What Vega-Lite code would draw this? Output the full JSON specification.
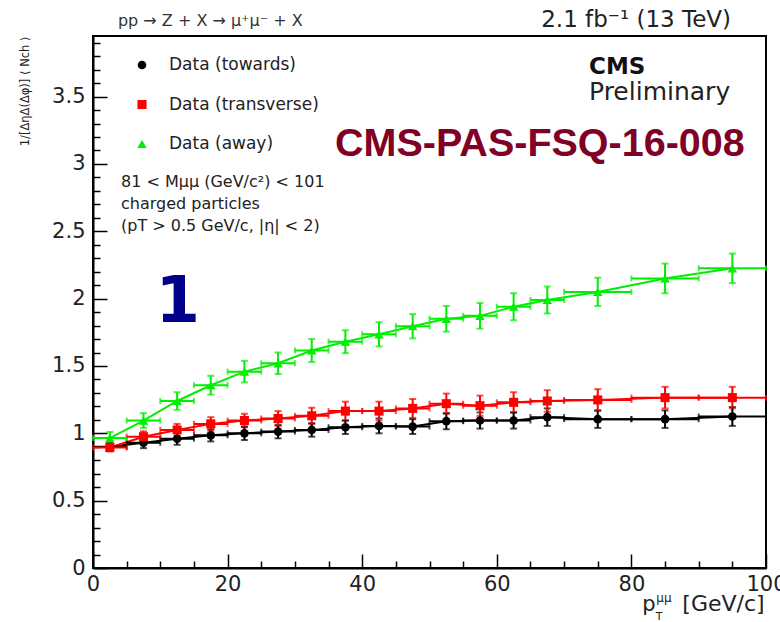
{
  "$schema": "https://vega.github.io/schema/vega-lite/v6.json",
  "width": 673,
  "height": 532,
  "autosize": "none",
  "padding": {"left": 93, "top": 36, "right": 14, "bottom": 54},
  "background": "white",
  "config": {
    "view": {"stroke": "#000", "strokeWidth": 2},
    "font": "DejaVu Sans",
    "axis": {
      "grid": false,
      "domainColor": "#000",
      "domainWidth": 2,
      "tickColor": "#000",
      "tickWidth": 1.5,
      "labelFont": "DejaVu Sans",
      "labelFontSize": 21,
      "labelColor": "#222"
    }
  },
  "data": {
    "values": [
      {"series": "Data (towards)", "x": 2.5, "xlo": 0, "xhi": 5, "y": 0.9, "ylo": 0.87, "yhi": 0.93},
      {"series": "Data (towards)", "x": 7.5, "xlo": 5, "xhi": 10, "y": 0.93, "ylo": 0.89, "yhi": 0.97},
      {"series": "Data (towards)", "x": 12.5, "xlo": 10, "xhi": 15, "y": 0.96, "ylo": 0.915, "yhi": 1.005},
      {"series": "Data (towards)", "x": 17.5, "xlo": 15, "xhi": 20, "y": 0.985, "ylo": 0.94, "yhi": 1.03},
      {"series": "Data (towards)", "x": 22.5, "xlo": 20, "xhi": 25, "y": 1.0, "ylo": 0.95, "yhi": 1.05},
      {"series": "Data (towards)", "x": 27.5, "xlo": 25, "xhi": 30, "y": 1.013, "ylo": 0.963, "yhi": 1.063},
      {"series": "Data (towards)", "x": 32.5, "xlo": 30, "xhi": 35, "y": 1.025, "ylo": 0.975, "yhi": 1.075},
      {"series": "Data (towards)", "x": 37.5, "xlo": 35, "xhi": 40, "y": 1.045, "ylo": 0.995, "yhi": 1.095},
      {"series": "Data (towards)", "x": 42.5, "xlo": 40, "xhi": 45, "y": 1.055, "ylo": 1.0, "yhi": 1.11},
      {"series": "Data (towards)", "x": 47.5, "xlo": 45, "xhi": 50, "y": 1.05, "ylo": 0.995, "yhi": 1.105},
      {"series": "Data (towards)", "x": 52.5, "xlo": 50, "xhi": 55, "y": 1.09, "ylo": 1.03, "yhi": 1.15},
      {"series": "Data (towards)", "x": 57.5, "xlo": 55, "xhi": 60, "y": 1.095, "ylo": 1.035, "yhi": 1.155},
      {"series": "Data (towards)", "x": 62.5, "xlo": 60, "xhi": 65, "y": 1.095, "ylo": 1.035, "yhi": 1.155},
      {"series": "Data (towards)", "x": 67.5, "xlo": 65, "xhi": 70, "y": 1.12, "ylo": 1.055, "yhi": 1.185},
      {"series": "Data (towards)", "x": 75, "xlo": 70, "xhi": 80, "y": 1.105, "ylo": 1.04, "yhi": 1.17},
      {"series": "Data (towards)", "x": 85, "xlo": 80, "xhi": 90, "y": 1.105, "ylo": 1.04, "yhi": 1.17},
      {"series": "Data (towards)", "x": 95, "xlo": 90, "xhi": 100, "y": 1.125, "ylo": 1.055, "yhi": 1.195},
      {"series": "Data (transverse)", "x": 2.5, "xlo": 0, "xhi": 5, "y": 0.895, "ylo": 0.865, "yhi": 0.925},
      {"series": "Data (transverse)", "x": 7.5, "xlo": 5, "xhi": 10, "y": 0.975, "ylo": 0.935, "yhi": 1.015},
      {"series": "Data (transverse)", "x": 12.5, "xlo": 10, "xhi": 15, "y": 1.025, "ylo": 0.98, "yhi": 1.07},
      {"series": "Data (transverse)", "x": 17.5, "xlo": 15, "xhi": 20, "y": 1.07, "ylo": 1.02, "yhi": 1.12},
      {"series": "Data (transverse)", "x": 22.5, "xlo": 20, "xhi": 25, "y": 1.095, "ylo": 1.045, "yhi": 1.145},
      {"series": "Data (transverse)", "x": 27.5, "xlo": 25, "xhi": 30, "y": 1.11, "ylo": 1.055, "yhi": 1.165},
      {"series": "Data (transverse)", "x": 32.5, "xlo": 30, "xhi": 35, "y": 1.13, "ylo": 1.07, "yhi": 1.19},
      {"series": "Data (transverse)", "x": 37.5, "xlo": 35, "xhi": 40, "y": 1.165, "ylo": 1.095, "yhi": 1.235},
      {"series": "Data (transverse)", "x": 42.5, "xlo": 40, "xhi": 45, "y": 1.165, "ylo": 1.095, "yhi": 1.235},
      {"series": "Data (transverse)", "x": 47.5, "xlo": 45, "xhi": 50, "y": 1.185, "ylo": 1.115, "yhi": 1.255},
      {"series": "Data (transverse)", "x": 52.5, "xlo": 50, "xhi": 55, "y": 1.22, "ylo": 1.145, "yhi": 1.295},
      {"series": "Data (transverse)", "x": 57.5, "xlo": 55, "xhi": 60, "y": 1.205, "ylo": 1.13, "yhi": 1.28},
      {"series": "Data (transverse)", "x": 62.5, "xlo": 60, "xhi": 65, "y": 1.23, "ylo": 1.155, "yhi": 1.305},
      {"series": "Data (transverse)", "x": 67.5, "xlo": 65, "xhi": 70, "y": 1.24, "ylo": 1.16, "yhi": 1.32},
      {"series": "Data (transverse)", "x": 75, "xlo": 70, "xhi": 80, "y": 1.248, "ylo": 1.168, "yhi": 1.328},
      {"series": "Data (transverse)", "x": 85, "xlo": 80, "xhi": 90, "y": 1.265, "ylo": 1.185, "yhi": 1.345},
      {"series": "Data (transverse)", "x": 95, "xlo": 90, "xhi": 100, "y": 1.265, "ylo": 1.185, "yhi": 1.345},
      {"series": "Data (away)", "x": 2.5, "xlo": 0, "xhi": 5, "y": 0.965, "ylo": 0.92, "yhi": 1.01},
      {"series": "Data (away)", "x": 7.5, "xlo": 5, "xhi": 10, "y": 1.095, "ylo": 1.04, "yhi": 1.15},
      {"series": "Data (away)", "x": 12.5, "xlo": 10, "xhi": 15, "y": 1.24, "ylo": 1.175, "yhi": 1.305},
      {"series": "Data (away)", "x": 17.5, "xlo": 15, "xhi": 20, "y": 1.357, "ylo": 1.287, "yhi": 1.427},
      {"series": "Data (away)", "x": 22.5, "xlo": 20, "xhi": 25, "y": 1.458, "ylo": 1.378, "yhi": 1.538},
      {"series": "Data (away)", "x": 27.5, "xlo": 25, "xhi": 30, "y": 1.52, "ylo": 1.44, "yhi": 1.6},
      {"series": "Data (away)", "x": 32.5, "xlo": 30, "xhi": 35, "y": 1.615, "ylo": 1.53, "yhi": 1.7},
      {"series": "Data (away)", "x": 37.5, "xlo": 35, "xhi": 40, "y": 1.68, "ylo": 1.595, "yhi": 1.765},
      {"series": "Data (away)", "x": 42.5, "xlo": 40, "xhi": 45, "y": 1.735, "ylo": 1.645, "yhi": 1.825},
      {"series": "Data (away)", "x": 47.5, "xlo": 45, "xhi": 50, "y": 1.795, "ylo": 1.705, "yhi": 1.885},
      {"series": "Data (away)", "x": 52.5, "xlo": 50, "xhi": 55, "y": 1.85, "ylo": 1.755, "yhi": 1.945},
      {"series": "Data (away)", "x": 57.5, "xlo": 55, "xhi": 60, "y": 1.872, "ylo": 1.777, "yhi": 1.967},
      {"series": "Data (away)", "x": 62.5, "xlo": 60, "xhi": 65, "y": 1.94, "ylo": 1.84, "yhi": 2.04},
      {"series": "Data (away)", "x": 67.5, "xlo": 65, "xhi": 70, "y": 1.99, "ylo": 1.89, "yhi": 2.09},
      {"series": "Data (away)", "x": 75, "xlo": 70, "xhi": 80, "y": 2.05, "ylo": 1.945, "yhi": 2.155},
      {"series": "Data (away)", "x": 85, "xlo": 80, "xhi": 90, "y": 2.15, "ylo": 2.04, "yhi": 2.26},
      {"series": "Data (away)", "x": 95, "xlo": 90, "xhi": 100, "y": 2.225, "ylo": 2.115, "yhi": 2.335}
    ]
  },
  "layer": [
    {
      "mark": {"type": "line", "strokeWidth": 2},
      "encoding": {
        "x": {"field": "x", "type": "quantitative", "scale": {"domain": [0, 100], "nice": false},
          "axis": {"values": [0,5,10,15,20,25,30,35,40,45,50,55,60,65,70,75,80,85,90,95,100], "tickSize": {"condition": {"test": "datum.value % 20 === 0", "value": -14}, "value": -7}, "labelExpr": "datum.value % 20 === 0 ? datum.label : ''", "labelPadding": 19, "labelFlush": false, "labelOverlap": false, "title": null}},
        "y": {"field": "y", "type": "quantitative", "scale": {"domain": [0, 3.95], "nice": false, "zero": false},
          "axis": {"values": [0,0.1,0.2,0.3,0.4,0.5,0.6,0.7,0.8,0.9,1,1.1,1.2,1.3,1.4,1.5,1.6,1.7,1.8,1.9,2,2.1,2.2,2.3,2.4,2.5,2.6,2.7,2.8,2.9,3,3.1,3.2,3.3,3.4,3.5,3.6,3.7,3.8,3.9], "tickSize": {"condition": {"test": "abs(datum.value * 2 - round(datum.value * 2)) < 0.001", "value": -14}, "value": -7}, "labelExpr": "abs(datum.value * 2 - round(datum.value * 2)) < 0.001 ? format(datum.value, '~g') : ''", "labelPadding": 22, "labelFlush": false, "labelOverlap": false, "title": "1/[ΔηΔ(Δφ)] ⟨ Nch ⟩", "titleFont": "DejaVu Sans", "titleFontSize": 11.5, "titleFontWeight": "normal", "titleColor": "#222", "titleAngle": 270, "titleAlign": "right", "titleBaseline": "alphabetic", "titleX": -65, "titleY": 0}},
        "color": {"field": "series", "type": "nominal", "scale": {"domain": ["Data (towards)", "Data (transverse)", "Data (away)"], "range": ["#000000", "#ff0000", "#00ee00"]},
          "legend": {"orient": "none", "legendX": 40.5, "legendY": 20.5, "title": null, "padding": 0, "rowPadding": 21.5, "labelFont": "DejaVu Sans", "labelFontSize": 17, "labelColor": "#222", "labelOffset": 18.5, "symbolSize": 81, "symbolStrokeWidth": 0, "symbolOpacity": 1}}
      }
    },
    {
      "mark": {"type": "errorbar", "ticks": {"size": 7, "thickness": 2}, "thickness": 2},
      "encoding": {
        "x": {"field": "x", "type": "quantitative", "scale": {"domain": [0, 100], "nice": false},
          "axis": {"values": [0,5,10,15,20,25,30,35,40,45,50,55,60,65,70,75,80,85,90,95,100], "tickSize": {"condition": {"test": "datum.value % 20 === 0", "value": -14}, "value": -7}, "labelExpr": "datum.value % 20 === 0 ? datum.label : ''", "labelPadding": 19, "labelFlush": false, "labelOverlap": false, "title": null}},
        "y": {"field": "ylo", "type": "quantitative", "scale": {"domain": [0, 3.95], "nice": false, "zero": false},
          "axis": {"values": [0,0.1,0.2,0.3,0.4,0.5,0.6,0.7,0.8,0.9,1,1.1,1.2,1.3,1.4,1.5,1.6,1.7,1.8,1.9,2,2.1,2.2,2.3,2.4,2.5,2.6,2.7,2.8,2.9,3,3.1,3.2,3.3,3.4,3.5,3.6,3.7,3.8,3.9], "tickSize": {"condition": {"test": "abs(datum.value * 2 - round(datum.value * 2)) < 0.001", "value": -14}, "value": -7}, "labelExpr": "abs(datum.value * 2 - round(datum.value * 2)) < 0.001 ? format(datum.value, '~g') : ''", "labelPadding": 22, "labelFlush": false, "labelOverlap": false, "title": "1/[ΔηΔ(Δφ)] ⟨ Nch ⟩", "titleFont": "DejaVu Sans", "titleFontSize": 11.5, "titleFontWeight": "normal", "titleColor": "#222", "titleAngle": 270, "titleAlign": "right", "titleBaseline": "alphabetic", "titleX": -65, "titleY": 0}},
        "y2": {"field": "yhi"},
        "color": {"field": "series", "type": "nominal", "scale": {"domain": ["Data (towards)", "Data (transverse)", "Data (away)"], "range": ["#000000", "#ff0000", "#00ee00"]},
          "legend": {"orient": "none", "legendX": 40.5, "legendY": 20.5, "title": null, "padding": 0, "rowPadding": 21.5, "labelFont": "DejaVu Sans", "labelFontSize": 17, "labelColor": "#222", "labelOffset": 18.5, "symbolSize": 81, "symbolStrokeWidth": 0, "symbolOpacity": 1}}
      }
    },
    {
      "mark": {"type": "errorbar", "ticks": {"size": 6, "thickness": 2}, "thickness": 2},
      "encoding": {
        "x": {"field": "xlo", "type": "quantitative", "scale": {"domain": [0, 100], "nice": false},
          "axis": {"values": [0,5,10,15,20,25,30,35,40,45,50,55,60,65,70,75,80,85,90,95,100], "tickSize": {"condition": {"test": "datum.value % 20 === 0", "value": -14}, "value": -7}, "labelExpr": "datum.value % 20 === 0 ? datum.label : ''", "labelPadding": 19, "labelFlush": false, "labelOverlap": false, "title": null}},
        "x2": {"field": "xhi"},
        "y": {"field": "y", "type": "quantitative", "scale": {"domain": [0, 3.95], "nice": false, "zero": false},
          "axis": {"values": [0,0.1,0.2,0.3,0.4,0.5,0.6,0.7,0.8,0.9,1,1.1,1.2,1.3,1.4,1.5,1.6,1.7,1.8,1.9,2,2.1,2.2,2.3,2.4,2.5,2.6,2.7,2.8,2.9,3,3.1,3.2,3.3,3.4,3.5,3.6,3.7,3.8,3.9], "tickSize": {"condition": {"test": "abs(datum.value * 2 - round(datum.value * 2)) < 0.001", "value": -14}, "value": -7}, "labelExpr": "abs(datum.value * 2 - round(datum.value * 2)) < 0.001 ? format(datum.value, '~g') : ''", "labelPadding": 22, "labelFlush": false, "labelOverlap": false, "title": "1/[ΔηΔ(Δφ)] ⟨ Nch ⟩", "titleFont": "DejaVu Sans", "titleFontSize": 11.5, "titleFontWeight": "normal", "titleColor": "#222", "titleAngle": 270, "titleAlign": "right", "titleBaseline": "alphabetic", "titleX": -65, "titleY": 0}},
        "color": {"field": "series", "type": "nominal", "scale": {"domain": ["Data (towards)", "Data (transverse)", "Data (away)"], "range": ["#000000", "#ff0000", "#00ee00"]},
          "legend": {"orient": "none", "legendX": 40.5, "legendY": 20.5, "title": null, "padding": 0, "rowPadding": 21.5, "labelFont": "DejaVu Sans", "labelFontSize": 17, "labelColor": "#222", "labelOffset": 18.5, "symbolSize": 81, "symbolStrokeWidth": 0, "symbolOpacity": 1}}
      }
    },
    {
      "mark": {"type": "point", "filled": true, "opacity": 1},
      "encoding": {
        "x": {"field": "x", "type": "quantitative", "scale": {"domain": [0, 100], "nice": false},
          "axis": {"values": [0,5,10,15,20,25,30,35,40,45,50,55,60,65,70,75,80,85,90,95,100], "tickSize": {"condition": {"test": "datum.value % 20 === 0", "value": -14}, "value": -7}, "labelExpr": "datum.value % 20 === 0 ? datum.label : ''", "labelPadding": 19, "labelFlush": false, "labelOverlap": false, "title": null}},
        "y": {"field": "y", "type": "quantitative", "scale": {"domain": [0, 3.95], "nice": false, "zero": false},
          "axis": {"values": [0,0.1,0.2,0.3,0.4,0.5,0.6,0.7,0.8,0.9,1,1.1,1.2,1.3,1.4,1.5,1.6,1.7,1.8,1.9,2,2.1,2.2,2.3,2.4,2.5,2.6,2.7,2.8,2.9,3,3.1,3.2,3.3,3.4,3.5,3.6,3.7,3.8,3.9], "tickSize": {"condition": {"test": "abs(datum.value * 2 - round(datum.value * 2)) < 0.001", "value": -14}, "value": -7}, "labelExpr": "abs(datum.value * 2 - round(datum.value * 2)) < 0.001 ? format(datum.value, '~g') : ''", "labelPadding": 22, "labelFlush": false, "labelOverlap": false, "title": "1/[ΔηΔ(Δφ)] ⟨ Nch ⟩", "titleFont": "DejaVu Sans", "titleFontSize": 11.5, "titleFontWeight": "normal", "titleColor": "#222", "titleAngle": 270, "titleAlign": "right", "titleBaseline": "alphabetic", "titleX": -65, "titleY": 0}},
        "shape": {"field": "series", "type": "nominal", "scale": {"domain": ["Data (towards)", "Data (transverse)", "Data (away)"], "range": ["circle", "square", "triangle-up"]},
          "legend": {"orient": "none", "legendX": 40.5, "legendY": 20.5, "title": null, "padding": 0, "rowPadding": 21.5, "labelFont": "DejaVu Sans", "labelFontSize": 17, "labelColor": "#222", "labelOffset": 18.5, "symbolSize": 81, "symbolStrokeWidth": 0, "symbolOpacity": 1}},
        "size": {"field": "series", "type": "nominal", "scale": {"domain": ["Data (towards)", "Data (transverse)", "Data (away)"], "range": [75, 90, 60]}, "legend": null},
        "color": {"field": "series", "type": "nominal", "scale": {"domain": ["Data (towards)", "Data (transverse)", "Data (away)"], "range": ["#000000", "#ff0000", "#00ee00"]},
          "legend": {"orient": "none", "legendX": 40.5, "legendY": 20.5, "title": null, "padding": 0, "rowPadding": 21.5, "labelFont": "DejaVu Sans", "labelFontSize": 17, "labelColor": "#222", "labelOffset": 18.5, "symbolSize": 81, "symbolStrokeWidth": 0, "symbolOpacity": 1}}
      }
    },
    {
      "data": {"values": [{"t": "pp → Z + X → μ⁺μ⁻ + X"}]},
      "mark": {"type": "text", "align": "left", "baseline": "alphabetic", "font": "DejaVu Sans", "fontSize": 16, "color": "#333"},
      "encoding": {
        "text": {"field": "t"},
        "x": {"datum": 3.71, "type": "quantitative", "scale": {"domain": [0, 100], "nice": false},
          "axis": {"values": [0,5,10,15,20,25,30,35,40,45,50,55,60,65,70,75,80,85,90,95,100], "tickSize": {"condition": {"test": "datum.value % 20 === 0", "value": -14}, "value": -7}, "labelExpr": "datum.value % 20 === 0 ? datum.label : ''", "labelPadding": 19, "labelFlush": false, "labelOverlap": false, "title": null}},
        "y": {"datum": 4.027, "type": "quantitative", "scale": {"domain": [0, 3.95], "nice": false, "zero": false},
          "axis": {"values": [0,0.1,0.2,0.3,0.4,0.5,0.6,0.7,0.8,0.9,1,1.1,1.2,1.3,1.4,1.5,1.6,1.7,1.8,1.9,2,2.1,2.2,2.3,2.4,2.5,2.6,2.7,2.8,2.9,3,3.1,3.2,3.3,3.4,3.5,3.6,3.7,3.8,3.9], "tickSize": {"condition": {"test": "abs(datum.value * 2 - round(datum.value * 2)) < 0.001", "value": -14}, "value": -7}, "labelExpr": "abs(datum.value * 2 - round(datum.value * 2)) < 0.001 ? format(datum.value, '~g') : ''", "labelPadding": 22, "labelFlush": false, "labelOverlap": false, "title": "1/[ΔηΔ(Δφ)] ⟨ Nch ⟩", "titleFont": "DejaVu Sans", "titleFontSize": 11.5, "titleFontWeight": "normal", "titleColor": "#222", "titleAngle": 270, "titleAlign": "right", "titleBaseline": "alphabetic", "titleX": -65, "titleY": 0}}
      }
    },
    {
      "data": {"values": [{"t": "2.1 fb⁻¹ (13 TeV)"}]},
      "mark": {"type": "text", "align": "right", "baseline": "alphabetic", "font": "DejaVu Sans", "fontSize": 23, "color": "#222"},
      "encoding": {
        "text": {"field": "t"},
        "x": {"datum": 94.8, "type": "quantitative", "scale": {"domain": [0, 100], "nice": false},
          "axis": {"values": [0,5,10,15,20,25,30,35,40,45,50,55,60,65,70,75,80,85,90,95,100], "tickSize": {"condition": {"test": "datum.value % 20 === 0", "value": -14}, "value": -7}, "labelExpr": "datum.value % 20 === 0 ? datum.label : ''", "labelPadding": 19, "labelFlush": false, "labelOverlap": false, "title": null}},
        "y": {"datum": 4.02, "type": "quantitative", "scale": {"domain": [0, 3.95], "nice": false, "zero": false},
          "axis": {"values": [0,0.1,0.2,0.3,0.4,0.5,0.6,0.7,0.8,0.9,1,1.1,1.2,1.3,1.4,1.5,1.6,1.7,1.8,1.9,2,2.1,2.2,2.3,2.4,2.5,2.6,2.7,2.8,2.9,3,3.1,3.2,3.3,3.4,3.5,3.6,3.7,3.8,3.9], "tickSize": {"condition": {"test": "abs(datum.value * 2 - round(datum.value * 2)) < 0.001", "value": -14}, "value": -7}, "labelExpr": "abs(datum.value * 2 - round(datum.value * 2)) < 0.001 ? format(datum.value, '~g') : ''", "labelPadding": 22, "labelFlush": false, "labelOverlap": false, "title": "1/[ΔηΔ(Δφ)] ⟨ Nch ⟩", "titleFont": "DejaVu Sans", "titleFontSize": 11.5, "titleFontWeight": "normal", "titleColor": "#222", "titleAngle": 270, "titleAlign": "right", "titleBaseline": "alphabetic", "titleX": -65, "titleY": 0}}
      }
    },
    {
      "data": {"values": [{"t": "CMS"}]},
      "mark": {"type": "text", "align": "left", "baseline": "alphabetic", "font": "DejaVu Sans", "fontSize": 23, "fontWeight": "bold", "color": "#111"},
      "encoding": {
        "text": {"field": "t"},
        "x": {"datum": 73.7, "type": "quantitative", "scale": {"domain": [0, 100], "nice": false},
          "axis": {"values": [0,5,10,15,20,25,30,35,40,45,50,55,60,65,70,75,80,85,90,95,100], "tickSize": {"condition": {"test": "datum.value % 20 === 0", "value": -14}, "value": -7}, "labelExpr": "datum.value % 20 === 0 ? datum.label : ''", "labelPadding": 19, "labelFlush": false, "labelOverlap": false, "title": null}},
        "y": {"datum": 3.67, "type": "quantitative", "scale": {"domain": [0, 3.95], "nice": false, "zero": false},
          "axis": {"values": [0,0.1,0.2,0.3,0.4,0.5,0.6,0.7,0.8,0.9,1,1.1,1.2,1.3,1.4,1.5,1.6,1.7,1.8,1.9,2,2.1,2.2,2.3,2.4,2.5,2.6,2.7,2.8,2.9,3,3.1,3.2,3.3,3.4,3.5,3.6,3.7,3.8,3.9], "tickSize": {"condition": {"test": "abs(datum.value * 2 - round(datum.value * 2)) < 0.001", "value": -14}, "value": -7}, "labelExpr": "abs(datum.value * 2 - round(datum.value * 2)) < 0.001 ? format(datum.value, '~g') : ''", "labelPadding": 22, "labelFlush": false, "labelOverlap": false, "title": "1/[ΔηΔ(Δφ)] ⟨ Nch ⟩", "titleFont": "DejaVu Sans", "titleFontSize": 11.5, "titleFontWeight": "normal", "titleColor": "#222", "titleAngle": 270, "titleAlign": "right", "titleBaseline": "alphabetic", "titleX": -65, "titleY": 0}}
      }
    },
    {
      "data": {"values": [{"t": "Preliminary"}]},
      "mark": {"type": "text", "align": "left", "baseline": "alphabetic", "font": "DejaVu Sans", "fontSize": 25, "color": "#222"},
      "encoding": {
        "text": {"field": "t"},
        "x": {"datum": 73.7, "type": "quantitative", "scale": {"domain": [0, 100], "nice": false},
          "axis": {"values": [0,5,10,15,20,25,30,35,40,45,50,55,60,65,70,75,80,85,90,95,100], "tickSize": {"condition": {"test": "datum.value % 20 === 0", "value": -14}, "value": -7}, "labelExpr": "datum.value % 20 === 0 ? datum.label : ''", "labelPadding": 19, "labelFlush": false, "labelOverlap": false, "title": null}},
        "y": {"datum": 3.477, "type": "quantitative", "scale": {"domain": [0, 3.95], "nice": false, "zero": false},
          "axis": {"values": [0,0.1,0.2,0.3,0.4,0.5,0.6,0.7,0.8,0.9,1,1.1,1.2,1.3,1.4,1.5,1.6,1.7,1.8,1.9,2,2.1,2.2,2.3,2.4,2.5,2.6,2.7,2.8,2.9,3,3.1,3.2,3.3,3.4,3.5,3.6,3.7,3.8,3.9], "tickSize": {"condition": {"test": "abs(datum.value * 2 - round(datum.value * 2)) < 0.001", "value": -14}, "value": -7}, "labelExpr": "abs(datum.value * 2 - round(datum.value * 2)) < 0.001 ? format(datum.value, '~g') : ''", "labelPadding": 22, "labelFlush": false, "labelOverlap": false, "title": "1/[ΔηΔ(Δφ)] ⟨ Nch ⟩", "titleFont": "DejaVu Sans", "titleFontSize": 11.5, "titleFontWeight": "normal", "titleColor": "#222", "titleAngle": 270, "titleAlign": "right", "titleBaseline": "alphabetic", "titleX": -65, "titleY": 0}}
      }
    },
    {
      "data": {"values": [{"t": "CMS-PAS-FSQ-16-008"}]},
      "mark": {"type": "text", "align": "center", "baseline": "alphabetic", "font": "Liberation Sans", "fontSize": 39.5, "fontWeight": "bold", "color": "#800026"},
      "encoding": {
        "text": {"field": "t"},
        "x": {"datum": 66.4, "type": "quantitative", "scale": {"domain": [0, 100], "nice": false},
          "axis": {"values": [0,5,10,15,20,25,30,35,40,45,50,55,60,65,70,75,80,85,90,95,100], "tickSize": {"condition": {"test": "datum.value % 20 === 0", "value": -14}, "value": -7}, "labelExpr": "datum.value % 20 === 0 ? datum.label : ''", "labelPadding": 19, "labelFlush": false, "labelOverlap": false, "title": null}},
        "y": {"datum": 3.056, "type": "quantitative", "scale": {"domain": [0, 3.95], "nice": false, "zero": false},
          "axis": {"values": [0,0.1,0.2,0.3,0.4,0.5,0.6,0.7,0.8,0.9,1,1.1,1.2,1.3,1.4,1.5,1.6,1.7,1.8,1.9,2,2.1,2.2,2.3,2.4,2.5,2.6,2.7,2.8,2.9,3,3.1,3.2,3.3,3.4,3.5,3.6,3.7,3.8,3.9], "tickSize": {"condition": {"test": "abs(datum.value * 2 - round(datum.value * 2)) < 0.001", "value": -14}, "value": -7}, "labelExpr": "abs(datum.value * 2 - round(datum.value * 2)) < 0.001 ? format(datum.value, '~g') : ''", "labelPadding": 22, "labelFlush": false, "labelOverlap": false, "title": "1/[ΔηΔ(Δφ)] ⟨ Nch ⟩", "titleFont": "DejaVu Sans", "titleFontSize": 11.5, "titleFontWeight": "normal", "titleColor": "#222", "titleAngle": 270, "titleAlign": "right", "titleBaseline": "alphabetic", "titleX": -65, "titleY": 0}}
      }
    },
    {
      "data": {"values": [{"t": "1"}]},
      "mark": {"type": "text", "align": "center", "baseline": "alphabetic", "font": "DejaVu Sans", "fontSize": 64, "fontWeight": "bold", "color": "#000088"},
      "encoding": {
        "text": {"field": "t"},
        "x": {"datum": 12.6, "type": "quantitative", "scale": {"domain": [0, 100], "nice": false},
          "axis": {"values": [0,5,10,15,20,25,30,35,40,45,50,55,60,65,70,75,80,85,90,95,100], "tickSize": {"condition": {"test": "datum.value % 20 === 0", "value": -14}, "value": -7}, "labelExpr": "datum.value % 20 === 0 ? datum.label : ''", "labelPadding": 19, "labelFlush": false, "labelOverlap": false, "title": null}},
        "y": {"datum": 1.828, "type": "quantitative", "scale": {"domain": [0, 3.95], "nice": false, "zero": false},
          "axis": {"values": [0,0.1,0.2,0.3,0.4,0.5,0.6,0.7,0.8,0.9,1,1.1,1.2,1.3,1.4,1.5,1.6,1.7,1.8,1.9,2,2.1,2.2,2.3,2.4,2.5,2.6,2.7,2.8,2.9,3,3.1,3.2,3.3,3.4,3.5,3.6,3.7,3.8,3.9], "tickSize": {"condition": {"test": "abs(datum.value * 2 - round(datum.value * 2)) < 0.001", "value": -14}, "value": -7}, "labelExpr": "abs(datum.value * 2 - round(datum.value * 2)) < 0.001 ? format(datum.value, '~g') : ''", "labelPadding": 22, "labelFlush": false, "labelOverlap": false, "title": "1/[ΔηΔ(Δφ)] ⟨ Nch ⟩", "titleFont": "DejaVu Sans", "titleFontSize": 11.5, "titleFontWeight": "normal", "titleColor": "#222", "titleAngle": 270, "titleAlign": "right", "titleBaseline": "alphabetic", "titleX": -65, "titleY": 0}}
      }
    },
    {
      "data": {"values": [{"t": ["81 < Mμμ (GeV/c²) < 101", "charged particles", "(pT > 0.5 GeV/c, |η| < 2)"]}]},
      "mark": {"type": "text", "align": "left", "baseline": "alphabetic", "font": "DejaVu Sans", "fontSize": 16, "lineHeight": 22, "color": "#222"},
      "encoding": {
        "text": {"field": "t"},
        "x": {"datum": 4.16, "type": "quantitative", "scale": {"domain": [0, 100], "nice": false},
          "axis": {"values": [0,5,10,15,20,25,30,35,40,45,50,55,60,65,70,75,80,85,90,95,100], "tickSize": {"condition": {"test": "datum.value % 20 === 0", "value": -14}, "value": -7}, "labelExpr": "datum.value % 20 === 0 ? datum.label : ''", "labelPadding": 19, "labelFlush": false, "labelOverlap": false, "title": null}},
        "y": {"datum": 2.83, "type": "quantitative", "scale": {"domain": [0, 3.95], "nice": false, "zero": false},
          "axis": {"values": [0,0.1,0.2,0.3,0.4,0.5,0.6,0.7,0.8,0.9,1,1.1,1.2,1.3,1.4,1.5,1.6,1.7,1.8,1.9,2,2.1,2.2,2.3,2.4,2.5,2.6,2.7,2.8,2.9,3,3.1,3.2,3.3,3.4,3.5,3.6,3.7,3.8,3.9], "tickSize": {"condition": {"test": "abs(datum.value * 2 - round(datum.value * 2)) < 0.001", "value": -14}, "value": -7}, "labelExpr": "abs(datum.value * 2 - round(datum.value * 2)) < 0.001 ? format(datum.value, '~g') : ''", "labelPadding": 22, "labelFlush": false, "labelOverlap": false, "title": "1/[ΔηΔ(Δφ)] ⟨ Nch ⟩", "titleFont": "DejaVu Sans", "titleFontSize": 11.5, "titleFontWeight": "normal", "titleColor": "#222", "titleAngle": 270, "titleAlign": "right", "titleBaseline": "alphabetic", "titleX": -65, "titleY": 0}}
      }
    },
    {
      "data": {"values": [{"t": "p"}]},
      "mark": {"type": "text", "align": "left", "baseline": "alphabetic", "font": "DejaVu Sans", "fontSize": 21, "color": "#222"},
      "encoding": {
        "text": {"field": "t"},
        "x": {"datum": 81.6, "type": "quantitative", "scale": {"domain": [0, 100], "nice": false},
          "axis": {"values": [0,5,10,15,20,25,30,35,40,45,50,55,60,65,70,75,80,85,90,95,100], "tickSize": {"condition": {"test": "datum.value % 20 === 0", "value": -14}, "value": -7}, "labelExpr": "datum.value % 20 === 0 ? datum.label : ''", "labelPadding": 19, "labelFlush": false, "labelOverlap": false, "title": null}},
        "y": {"datum": -0.32, "type": "quantitative", "scale": {"domain": [0, 3.95], "nice": false, "zero": false},
          "axis": {"values": [0,0.1,0.2,0.3,0.4,0.5,0.6,0.7,0.8,0.9,1,1.1,1.2,1.3,1.4,1.5,1.6,1.7,1.8,1.9,2,2.1,2.2,2.3,2.4,2.5,2.6,2.7,2.8,2.9,3,3.1,3.2,3.3,3.4,3.5,3.6,3.7,3.8,3.9], "tickSize": {"condition": {"test": "abs(datum.value * 2 - round(datum.value * 2)) < 0.001", "value": -14}, "value": -7}, "labelExpr": "abs(datum.value * 2 - round(datum.value * 2)) < 0.001 ? format(datum.value, '~g') : ''", "labelPadding": 22, "labelFlush": false, "labelOverlap": false, "title": "1/[ΔηΔ(Δφ)] ⟨ Nch ⟩", "titleFont": "DejaVu Sans", "titleFontSize": 11.5, "titleFontWeight": "normal", "titleColor": "#222", "titleAngle": 270, "titleAlign": "right", "titleBaseline": "alphabetic", "titleX": -65, "titleY": 0}}
      }
    },
    {
      "data": {"values": [{"t": "T"}]},
      "mark": {"type": "text", "align": "left", "baseline": "alphabetic", "font": "DejaVu Sans", "fontSize": 11, "color": "#222"},
      "encoding": {
        "text": {"field": "t"},
        "x": {"datum": 83.6, "type": "quantitative", "scale": {"domain": [0, 100], "nice": false},
          "axis": {"values": [0,5,10,15,20,25,30,35,40,45,50,55,60,65,70,75,80,85,90,95,100], "tickSize": {"condition": {"test": "datum.value % 20 === 0", "value": -14}, "value": -7}, "labelExpr": "datum.value % 20 === 0 ? datum.label : ''", "labelPadding": 19, "labelFlush": false, "labelOverlap": false, "title": null}},
        "y": {"datum": -0.386, "type": "quantitative", "scale": {"domain": [0, 3.95], "nice": false, "zero": false},
          "axis": {"values": [0,0.1,0.2,0.3,0.4,0.5,0.6,0.7,0.8,0.9,1,1.1,1.2,1.3,1.4,1.5,1.6,1.7,1.8,1.9,2,2.1,2.2,2.3,2.4,2.5,2.6,2.7,2.8,2.9,3,3.1,3.2,3.3,3.4,3.5,3.6,3.7,3.8,3.9], "tickSize": {"condition": {"test": "abs(datum.value * 2 - round(datum.value * 2)) < 0.001", "value": -14}, "value": -7}, "labelExpr": "abs(datum.value * 2 - round(datum.value * 2)) < 0.001 ? format(datum.value, '~g') : ''", "labelPadding": 22, "labelFlush": false, "labelOverlap": false, "title": "1/[ΔηΔ(Δφ)] ⟨ Nch ⟩", "titleFont": "DejaVu Sans", "titleFontSize": 11.5, "titleFontWeight": "normal", "titleColor": "#222", "titleAngle": 270, "titleAlign": "right", "titleBaseline": "alphabetic", "titleX": -65, "titleY": 0}}
      }
    },
    {
      "data": {"values": [{"t": "μμ"}]},
      "mark": {"type": "text", "align": "left", "baseline": "alphabetic", "font": "DejaVu Sans", "fontSize": 12, "color": "#222"},
      "encoding": {
        "text": {"field": "t"},
        "x": {"datum": 83.7, "type": "quantitative", "scale": {"domain": [0, 100], "nice": false},
          "axis": {"values": [0,5,10,15,20,25,30,35,40,45,50,55,60,65,70,75,80,85,90,95,100], "tickSize": {"condition": {"test": "datum.value % 20 === 0", "value": -14}, "value": -7}, "labelExpr": "datum.value % 20 === 0 ? datum.label : ''", "labelPadding": 19, "labelFlush": false, "labelOverlap": false, "title": null}},
        "y": {"datum": -0.255, "type": "quantitative", "scale": {"domain": [0, 3.95], "nice": false, "zero": false},
          "axis": {"values": [0,0.1,0.2,0.3,0.4,0.5,0.6,0.7,0.8,0.9,1,1.1,1.2,1.3,1.4,1.5,1.6,1.7,1.8,1.9,2,2.1,2.2,2.3,2.4,2.5,2.6,2.7,2.8,2.9,3,3.1,3.2,3.3,3.4,3.5,3.6,3.7,3.8,3.9], "tickSize": {"condition": {"test": "abs(datum.value * 2 - round(datum.value * 2)) < 0.001", "value": -14}, "value": -7}, "labelExpr": "abs(datum.value * 2 - round(datum.value * 2)) < 0.001 ? format(datum.value, '~g') : ''", "labelPadding": 22, "labelFlush": false, "labelOverlap": false, "title": "1/[ΔηΔ(Δφ)] ⟨ Nch ⟩", "titleFont": "DejaVu Sans", "titleFontSize": 11.5, "titleFontWeight": "normal", "titleColor": "#222", "titleAngle": 270, "titleAlign": "right", "titleBaseline": "alphabetic", "titleX": -65, "titleY": 0}}
      }
    },
    {
      "data": {"values": [{"t": "[GeV/c]"}]},
      "mark": {"type": "text", "align": "right", "baseline": "alphabetic", "font": "DejaVu Sans", "fontSize": 22, "color": "#222"},
      "encoding": {
        "text": {"field": "t"},
        "x": {"datum": 99.8, "type": "quantitative", "scale": {"domain": [0, 100], "nice": false},
          "axis": {"values": [0,5,10,15,20,25,30,35,40,45,50,55,60,65,70,75,80,85,90,95,100], "tickSize": {"condition": {"test": "datum.value % 20 === 0", "value": -14}, "value": -7}, "labelExpr": "datum.value % 20 === 0 ? datum.label : ''", "labelPadding": 19, "labelFlush": false, "labelOverlap": false, "title": null}},
        "y": {"datum": -0.32, "type": "quantitative", "scale": {"domain": [0, 3.95], "nice": false, "zero": false},
          "axis": {"values": [0,0.1,0.2,0.3,0.4,0.5,0.6,0.7,0.8,0.9,1,1.1,1.2,1.3,1.4,1.5,1.6,1.7,1.8,1.9,2,2.1,2.2,2.3,2.4,2.5,2.6,2.7,2.8,2.9,3,3.1,3.2,3.3,3.4,3.5,3.6,3.7,3.8,3.9], "tickSize": {"condition": {"test": "abs(datum.value * 2 - round(datum.value * 2)) < 0.001", "value": -14}, "value": -7}, "labelExpr": "abs(datum.value * 2 - round(datum.value * 2)) < 0.001 ? format(datum.value, '~g') : ''", "labelPadding": 22, "labelFlush": false, "labelOverlap": false, "title": "1/[ΔηΔ(Δφ)] ⟨ Nch ⟩", "titleFont": "DejaVu Sans", "titleFontSize": 11.5, "titleFontWeight": "normal", "titleColor": "#222", "titleAngle": 270, "titleAlign": "right", "titleBaseline": "alphabetic", "titleX": -65, "titleY": 0}}
      }
    }
  ]
}
